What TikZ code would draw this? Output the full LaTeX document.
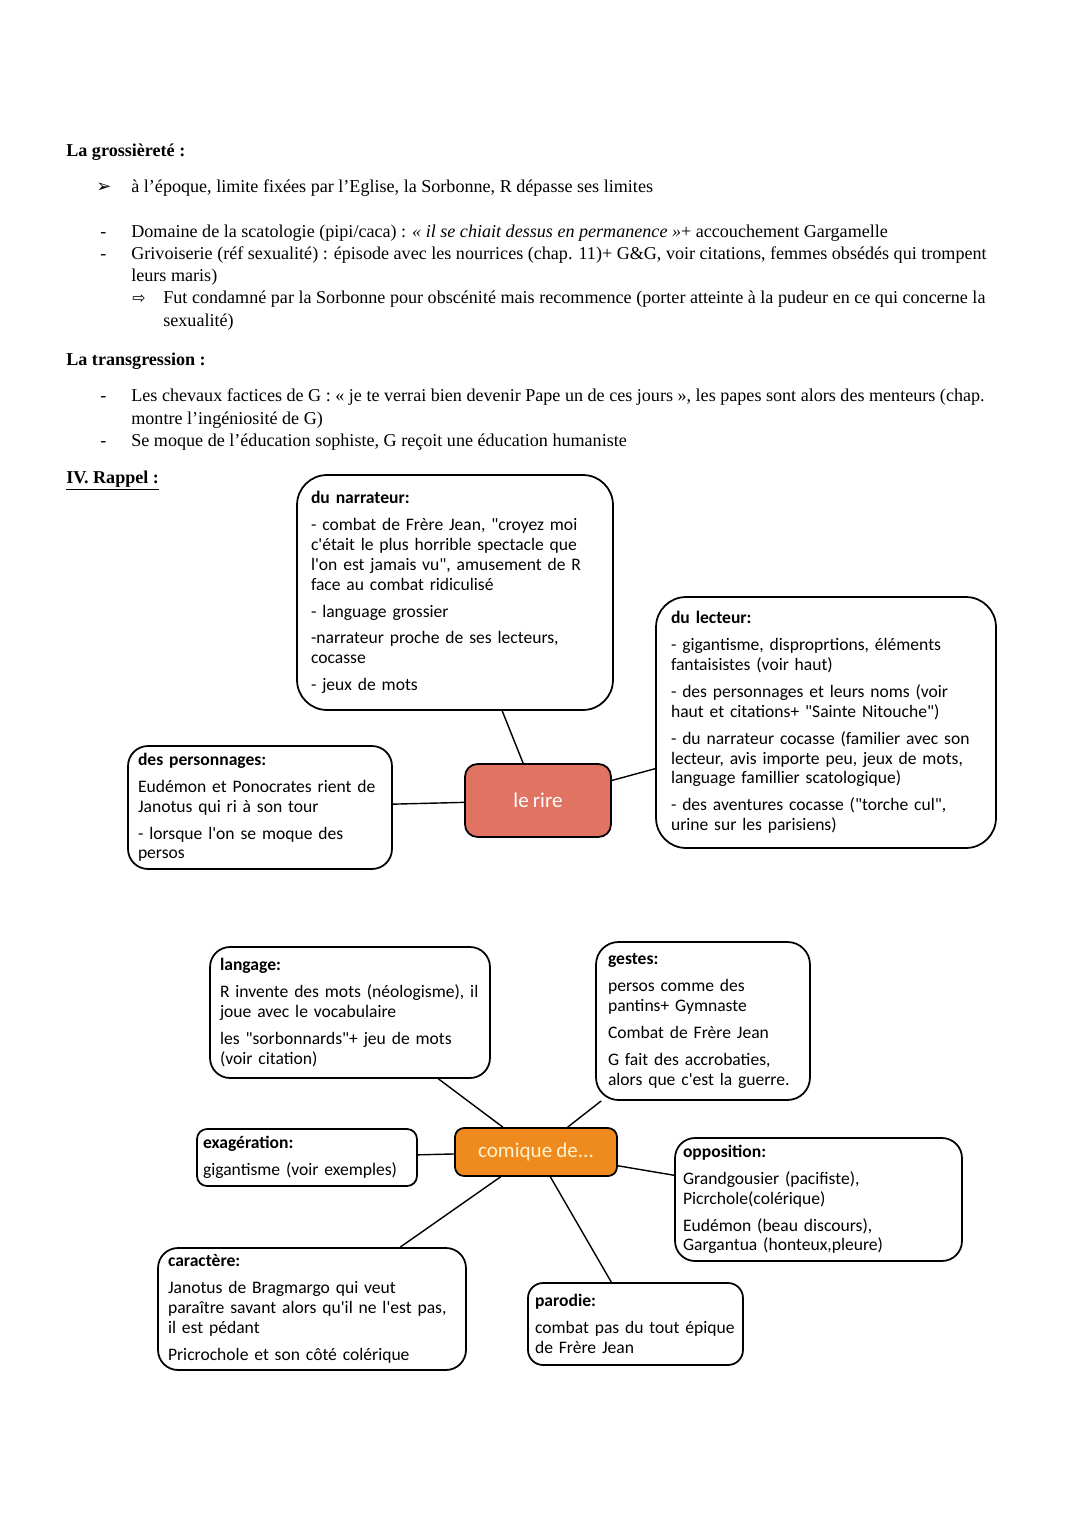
\documentclass[tikz,border=0pt]{standalone}
\usepackage{fontspec}
\setmainfont{Liberation Serif}
\newfontfamily\boxfont{Carlito}[WordSpace=0.85]
\newfontfamily\symfont{DejaVu Sans}
\usetikzlibrary{positioning}
\definecolor{RireRed}{HTML}{E07362}
\definecolor{ComOrange}{HTML}{EE8A1E}
\definecolor{ComText}{HTML}{FFF2CC}
\newcommand{\ap}{\textquotesingle}

\tikzset{
  note/.style={anchor=base west, inner sep=0pt, font=\fontsize{10.3}{12.75}\selectfont},
  bubble/.style={draw, line width=1pt, fill=white, align=left, inner ysep=2pt,
    font=\boxfont\fontsize{10}{11.3}\selectfont},
  hub/.style={draw, line width=1pt, font=\boxfont\fontsize{12}{14}\selectfont},
  link/.style={line width=0.8pt}
}

\begin{document}
\begin{tikzpicture}[x=0.02cm, y=-0.02cm]
\useasboundingbox (0,0) rectangle (1080,1527);
\fill[white] (0,0) rectangle (1080,1527);

% --- notes du haut ---
\node[note] (gross) at (66,157) {\textbf{La grossièreté :}};
\node[note] (b1) at (96,193) {\symfont ➢};
\node[note] (l1) at (131,193) {à l’époque, limite fixées par l’Eglise, la Sorbonne, R dépasse ses limites};
\node[note] (b2) at (100,238) {-};
\node[note] (l2) at (131,238) {Domaine de la scatologie (pipi/caca) : \textit{« il se chiait dessus en permanence »}+ accouchement Gargamelle};
\node[note] (b3) at (100,260) {-};
\node[note] (l3) at (131,260) {Grivoiserie (réf sexualité) : épisode avec les nourrices (chap. 11)+ G\&G, voir citations, femmes obsédés qui trompent};
\node[note] (l3b) at (131,282) {leurs maris)};
\node[note] (b4) at (132,304) {\symfont\small ⇨};
\node[note] (l4) at (163,304) {Fut condamné par la Sorbonne pour obscénité mais recommence (porter atteinte à la pudeur en ce qui concerne la};
\node[note] (l4b) at (163,327) {sexualité)};
\node[note] (trans) at (66,365) {\textbf{La transgression :}};
\node[note] (b5) at (100,401) {-};
\node[note] (l5) at (131,401) {Les chevaux factices de G : « je te verrai bien devenir Pape un de ces jours », les papes sont alors des menteurs (chap.};
\node[note] (l5b) at (131,424) {montre l’ingéniosité de G)};
\node[note] (b6) at (100,446) {-};
\node[note] (l6) at (131,446) {Se moque de l’éducation sophiste, G reçoit une éducation humaniste};
\node[note] (rappel) at (66,483) {\textbf{\underline{IV. Rappel :}}};

% --- le rire ---
\node[hub, fill=RireRed, text=white, minimum width=2.92cm, minimum height=1.46cm,
  rounded corners=0.25cm] (rire) at (538,800.5) {le rire};
\node[bubble, text width=5.76cm, inner xsep=0.28cm, minimum height=4.7cm,
  rounded corners=0.6cm] (narr) at (455,592.5) {\textbf{du narrateur:}\\[4pt]
- combat de Frère Jean, "croyez moi\\
c\ap était le plus horrible spectacle que\\
l\ap on est jamais vu", amusement de R\\
face au combat ridiculisé\\[4pt]
- language grossier\\[4pt]
-narrateur proche de ses lecteurs,\\
cocasse\\[4pt]
- jeux de mots};
\node[bubble, text width=6.2cm, inner xsep=0.3cm, minimum height=5.02cm,
  rounded corners=0.6cm] (lect) at (826,722.5) {\textbf{du lecteur:}\\[4pt]
- gigantisme, disproprtions, éléments\\
fantaisistes (voir haut)\\[4pt]
- des personnages et leurs noms (voir\\
haut et citations+ "Sainte Nitouche")\\[4pt]
- du narrateur cocasse (familier avec son\\
lecteur, avis importe peu, jeux de mots,\\
language famillier scatologique)\\[4pt]
- des aventures cocasse ("torche cul",\\
urine sur les parisiens)};
\node[bubble, text width=4.88cm, inner xsep=0.2cm, minimum height=2.46cm,
  rounded corners=0.4cm] (perso) at (260,807.5) {\textbf{des personnages:}\\[4pt]
Eudémon et Ponocrates rient de\\
Janotus qui ri à son tour\\[4pt]
- lorsque l\ap on se moque des\\
persos};
\draw[link] (narr) -- (rire);
\draw[link] (rire) -- (lect);
\draw[link] (perso) -- (rire);

% --- comique de... ---
\node[hub, fill=ComOrange, text=ComText, minimum width=3.24cm, minimum height=0.96cm,
  rounded corners=0.18cm] (com) at (536,1152) {comique de...};
\node[bubble, text width=5.2cm, inner xsep=0.2cm, minimum height=2.62cm,
  rounded corners=0.4cm] (lang) at (350,1012.5) {\textbf{langage:}\\[4pt]
R invente des mots (néologisme), il\\
joue avec le vocabulaire\\[4pt]
les "sorbonnards"+ jeu de mots\\
(voir citation)};
\node[bubble, text width=3.8cm, inner xsep=0.24cm, minimum height=3.16cm,
  rounded corners=0.45cm] (gest) at (703,1021) {\textbf{gestes:}\\[4pt]
persos comme des\\
pantins+ Gymnaste\\[4pt]
Combat de Frère Jean\\[4pt]
G fait des accrobaties,\\
alors que c\ap est la guerre.};
\node[bubble, text width=4.16cm, inner xsep=0.12cm, minimum height=1.14cm,
  rounded corners=0.2cm] (exag) at (307,1157.5) {\textbf{exagération:}\\[4pt]
gigantisme (voir exemples)};
\node[bubble, text width=5.42cm, inner xsep=0.16cm, minimum height=2.46cm,
  rounded corners=0.4cm] (oppo) at (818.5,1199.5) {\textbf{opposition:}\\[4pt]
Grandgousier (pacifiste),\\
Picrchole(colérique)\\[4pt]
Eudémon (beau discours),\\
Gargantua (honteux,pleure)};
\node[bubble, text width=5.76cm, inner xsep=0.2cm, minimum height=2.44cm,
  rounded corners=0.4cm] (cara) at (312,1309) {\textbf{caractère:}\\[4pt]
Janotus de Bragmargo qui veut\\
paraître savant alors qu\ap il ne l\ap est pas,\\
il est pédant\\[4pt]
Pricrochole et son côté colérique};
\node[bubble, text width=4.02cm, inner xsep=0.14cm, minimum height=1.64cm,
  rounded corners=0.3cm] (paro) at (635.5,1324) {\textbf{parodie:}\\[4pt]
combat pas du tout épique\\
de Frère Jean};
\draw[link] (lang) -- (com);
\draw[link] (gest) -- (com);
\draw[link] (exag) -- (com);
\draw[link] (com) -- (oppo);
\draw[link] (com) -- (cara);
\draw[link] (com) -- (paro);
\end{tikzpicture}
\end{document}
